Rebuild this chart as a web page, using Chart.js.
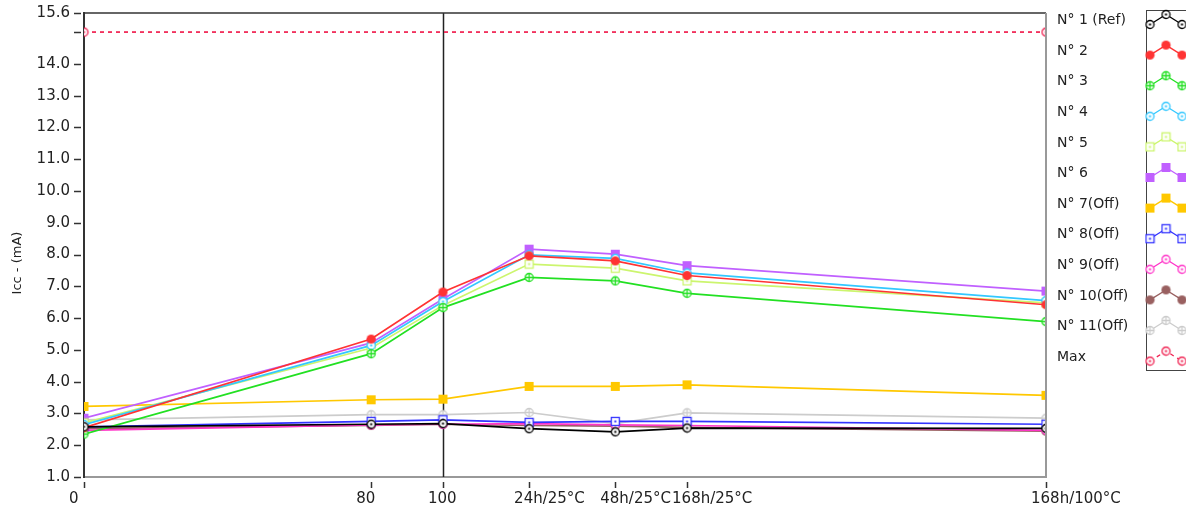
<!DOCTYPE html>
<html>
<head>
<meta charset="utf-8">
<script src="https://cdn.jsdelivr.net/npm/chart.js@4.4.0/dist/chart.umd.min.js"></script>
<style>
  html, body { margin: 0; padding: 0; background: #fff; }
</style>
</head>
<body>
<canvas id="chart" width="1186" height="513"></canvas>
<script>
// x positions of the measurement steps and their labels
const xPos = [0, 80, 100, 124, 148, 168, 268];
const xLabels = ["0", "80", "100", "24h/25°C", "48h/25°C", "168h/25°C", "168h/100°C"];
const yTicks = [1, 2, 3, 4, 5, 6, 7, 8, 9, 10, 11, 12, 13, 14, 15, 15.6];
const cursorX = 100;

// Icc (mA) per sample
const n1  = [2.58, 2.66, 2.68, 2.52, 2.42, 2.54, 2.53];
const n2  = [2.55, 5.34, 6.82, 7.96, 7.80, 7.34, 6.42];
const n3  = [2.35, 4.88, 6.33, 7.28, 7.17, 6.78, 5.89];
const n4  = [2.65, 5.14, 6.52, 7.99, 7.88, 7.42, 6.55];
const n5  = [2.70, 5.06, 6.40, 7.70, 7.57, 7.17, 6.48];
const n6  = [2.85, 5.22, 6.60, 8.17, 8.01, 7.65, 6.85];
const n7  = [3.22, 3.43, 3.45, 3.85, 3.85, 3.90, 3.57];
const n8  = [2.58, 2.75, 2.80, 2.72, 2.75, 2.75, 2.66];
const n9  = [2.47, 2.64, 2.66, 2.68, 2.64, 2.62, 2.47];
const n10 = [2.52, 2.62, 2.66, 2.62, 2.60, 2.56, 2.44];
const n11 = [2.80, 2.96, 2.96, 3.03, 2.68, 3.02, 2.85];
const maxX = [0, 268];
const maxV = [15.0, 15.0];

const names = ["N° 1 (Ref)", "N° 2", "N° 3", "N° 4", "N° 5", "N° 6",
               "N° 7(Off)", "N° 8(Off)", "N° 9(Off)", "N° 10(Off)", "N° 11(Off)", "Max"];

function makeMarker(kind, color) {
    const s = 11;
    const c = document.createElement("canvas");
    c.width = s; c.height = s;
    const g = c.getContext("2d");
    const m = s / 2;
    g.strokeStyle = color;
    g.fillStyle = color;
    g.lineWidth = 1.3;
    if (kind === "fcircle") {
        g.beginPath(); g.arc(m, m, 4.6, 0, Math.PI * 2); g.fill();
    } else if (kind === "ocircle" || kind === "xcircle") {
        g.fillStyle = "#fff";
        g.beginPath(); g.arc(m, m, 4, 0, Math.PI * 2); g.fill(); g.stroke();
        g.fillStyle = color;
        if (kind === "xcircle") {
            g.beginPath();
            g.moveTo(m, 1.5); g.lineTo(m, s - 1.5);
            g.moveTo(1.5, m); g.lineTo(s - 1.5, m);
            g.stroke();
        } else {
            g.fillRect(m - 1, m - 1, 2, 2);
        }
    } else if (kind === "fsquare") {
        g.fillRect(1, 1, 9, 9);
    } else if (kind === "osquare") {
        g.fillStyle = "#fff";
        g.fillRect(1.5, 1.5, 8, 8);
        g.strokeRect(1.5, 1.5, 8, 8);
        g.fillStyle = color;
        g.fillRect(m - 1, m - 1, 2, 2);
    }
    return c;
}

function series(label, values, color, kind, xs, dash) {
    const xv = xs || xPos;
    const marker = makeMarker(kind, color);
    return {
        label: label,
        data: values.map((v, i) => ({ x: xv[i], y: v })),
        borderColor: color,
        backgroundColor: color,
        borderWidth: 1.7,
        borderDash: dash || [],
        pointStyle: marker,
        pointRadius: 5,
        clip: 0,
        tension: 0
    };
}

const datasets = [
    series(names[0], n1, "#000000", "ocircle"),
    series(names[1], n2, "#ff3333", "fcircle"),
    series(names[2], n3, "#22e022", "xcircle"),
    series(names[3], n4, "#33c8ff", "ocircle"),
    series(names[4], n5, "#ccf56e", "osquare"),
    series(names[5], n6, "#c060ff", "fsquare"),
    series(names[6], n7, "#ffc800", "fsquare"),
    series(names[7], n8, "#3333ff", "osquare"),
    series(names[8], n9, "#ff33c8", "ocircle"),
    series(names[9], n10, "#996060", "fcircle"),
    series(names[10], n11, "#cccccc", "xcircle"),
    series(names[11], maxV, "#f02050", "ocircle", maxX, [4, 4])
];

const framePlugin = {
    id: "frame",
    beforeDatasetsDraw(chart) {
        const { ctx, chartArea: a, scales: { x } } = chart;
        const cx = Math.round(x.getPixelForValue(cursorX)) + 0.5;
        ctx.save();
        ctx.strokeStyle = "#222";
        ctx.lineWidth = 1.5;
        ctx.beginPath();
        ctx.moveTo(cx, a.top);
        ctx.lineTo(cx, a.bottom);
        ctx.stroke();
        ctx.restore();
    },
    afterDraw(chart) {
        const { ctx, chartArea: a, scales: { x, y } } = chart;
        ctx.save();

        // top and right border of the plot
        ctx.lineWidth = 1.5;
        ctx.strokeStyle = "#333";
        ctx.beginPath(); ctx.moveTo(a.left, a.top); ctx.lineTo(a.right, a.top); ctx.stroke();
        ctx.strokeStyle = "#999";
        ctx.lineWidth = 2;
        ctx.beginPath(); ctx.moveTo(a.right, a.top); ctx.lineTo(a.right, a.bottom); ctx.stroke();

        // tick marks, a little away from the axes
        ctx.strokeStyle = "#333";
        ctx.lineWidth = 1.5;
        y.ticks.forEach(t => {
            const py = Math.round(y.getPixelForValue(t.value)) + 0.5;
            ctx.beginPath(); ctx.moveTo(a.left - 10, py); ctx.lineTo(a.left - 3, py); ctx.stroke();
        });
        x.ticks.forEach(t => {
            const px = Math.round(x.getPixelForValue(t.value)) + 0.5;
            ctx.beginPath(); ctx.moveTo(px, a.bottom + 5); ctx.lineTo(px, a.bottom + 11); ctx.stroke();
        });

        // y title
        ctx.fillStyle = "#222";
        ctx.font = "13px 'DejaVu Sans'";
        ctx.textAlign = "center";
        ctx.textBaseline = "middle";
        ctx.translate(18, 263);
        ctx.rotate(-Math.PI / 2);
        ctx.fillText("Icc - (mA)", 0, 0);
        ctx.setTransform(1, 0, 0, 1, 0, 0);

        // legend: names on the left, samples in a box
        ctx.textAlign = "left";
        ctx.font = "14px 'DejaVu Sans'";
        ctx.strokeStyle = "#444";
        ctx.lineWidth = 1;
        ctx.strokeRect(1146.5, 10.5, 60, 360);
        chart.data.datasets.forEach((ds, i) => {
            const cy = 20.5 + 30.6 * i;
            ctx.fillStyle = "#222";
            ctx.fillText(ds.label, 1057, cy);
            const pts = [[1150, cy + 4], [1166, cy - 6], [1182, cy + 4]];
            ctx.strokeStyle = ds.borderColor;
            ctx.lineWidth = 1.3;
            ctx.setLineDash(ds.borderDash);
            ctx.beginPath();
            pts.forEach((p, k) => k ? ctx.lineTo(p[0], p[1]) : ctx.moveTo(p[0], p[1]));
            ctx.stroke();
            ctx.setLineDash([]);
            const img = ds.pointStyle;
            pts.forEach(p => ctx.drawImage(img, p[0] - img.width / 2, p[1] - img.height / 2));
        });
        ctx.restore();
    }
};

Chart.defaults.font.family = "'DejaVu Sans'";
Chart.defaults.font.size = 15;
Chart.defaults.color = "#222";

new Chart(document.getElementById("chart").getContext("2d"), {
    type: "line",
    data: { datasets: datasets },
    options: {
        responsive: false,
        animation: false,
        devicePixelRatio: 1,
        layout: { padding: { top: 12, right: 140, left: 0, bottom: 0 } },
        plugins: {
            legend: { display: false },
            tooltip: { enabled: false }
        },
        scales: {
            x: {
                type: "linear",
                min: 0,
                max: 268,
                afterBuildTicks: s => { s.ticks = xPos.map(v => ({ value: v })); },
                afterFit: s => { s.height = 36; },
                grid: { drawOnChartArea: false, tickLength: 10, tickColor: "rgba(0,0,0,0)" },
                border: { display: true, color: "#999", width: 2 },
                ticks: {
                    autoSkip: false,
                    maxRotation: 0,
                    align: "start",
                    labelOffset: -15,
                    padding: 3,
                    callback: (v, i) => xLabels[i]
                }
            },
            y: {
                min: 1,
                max: 15.6,
                afterBuildTicks: s => { s.ticks = yTicks.map(v => ({ value: v })); },
                afterFit: s => { s.width = 84; },
                grid: { drawOnChartArea: false, tickLength: 10, tickColor: "rgba(0,0,0,0)" },
                border: { display: true, color: "#333", width: 2 },
                ticks: {
                    padding: 4,
                    callback: v => v === 15 ? "" : v.toFixed(1)
                }
            }
        }
    },
    plugins: [framePlugin]
});
</script>
</body>
</html>
